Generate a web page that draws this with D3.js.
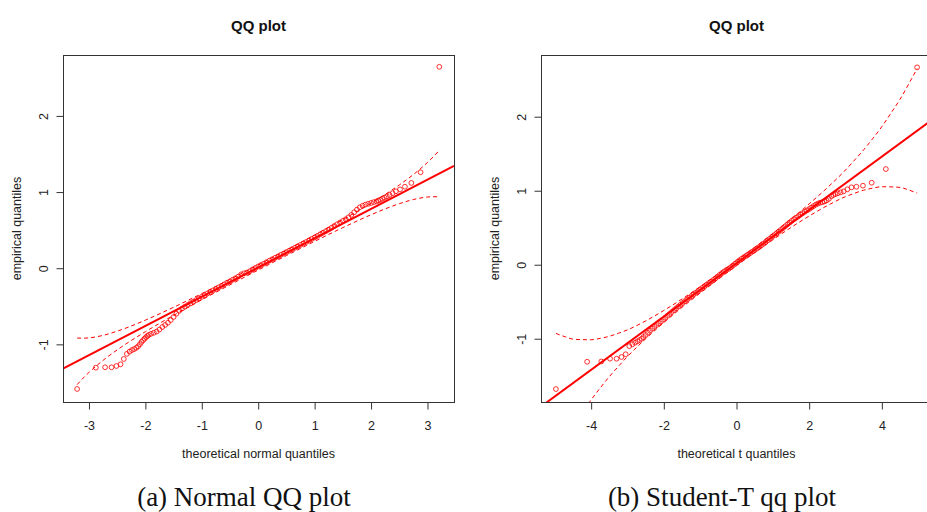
<!DOCTYPE html>
<html>
<head>
<meta charset="utf-8">
<script src="https://cdn.jsdelivr.net/npm/d3@7"></script>
<style>
  html, body { margin: 0; padding: 0; background: #fff; }
  svg { display: block; }
</style>
</head>
<body>
<svg id="chart" width="927" height="512"></svg>
<script>
// ---------- Normal QQ plot data ----------
const normalTheo = [
  -3.21, -2.878, -2.714, -2.60, -2.513, -2.44, -2.382, -2.328, -2.28, -2.238,
  -2.198, -2.16, -2.128, -2.097, -2.067, -2.04, -2.013, -1.988, -1.964, -1.94,
  -1.90, -1.85, -1.80, -1.75, -1.70, -1.65, -1.60, -1.55, -1.50, -1.45,
  -1.40, -1.35, -1.30, -1.25, -1.20, -1.15, -1.10, -1.05, -1.00, -0.95,
  -0.90, -0.85, -0.80, -0.75, -0.70, -0.65, -0.60, -0.55, -0.50, -0.45,
  -0.40, -0.35, -0.30, -0.25, -0.20, -0.15, -0.10, -0.05, 0.00, 0.05,
  0.10, 0.15, 0.20, 0.25, 0.30, 0.35, 0.40, 0.45, 0.50, 0.55,
  0.60, 0.65, 0.70, 0.75, 0.80, 0.85, 0.90, 0.95, 1.00, 1.05,
  1.10, 1.15, 1.20, 1.25, 1.30, 1.35, 1.40, 1.45, 1.50, 1.55,
  1.60, 1.65, 1.70, 1.75, 1.80, 1.85, 1.90, 1.95, 2.00, 2.05,
  2.097, 2.128, 2.16, 2.198, 2.238, 2.28, 2.328, 2.382, 2.44, 2.513,
  2.60, 2.714, 2.878, 3.21
];
const normalEmp = [
  -1.586, -1.306, -1.301, -1.301, -1.284, -1.262, -1.192, -1.125, -1.095, -1.075,
  -1.062, -1.045, -1.025, -0.998, -0.968, -0.945, -0.925, -0.905, -0.890, -0.876,
  -0.862, -0.848, -0.832, -0.805, -0.772, -0.745, -0.716, -0.681, -0.641, -0.598,
  -0.560, -0.530, -0.506, -0.483, -0.461, -0.440, -0.418, -0.397, -0.376, -0.354,
  -0.332, -0.313, -0.291, -0.272, -0.251, -0.232, -0.211, -0.190, -0.171, -0.150,
  -0.131, -0.109, -0.080, -0.066, -0.058, -0.040, -0.016, 0.004, 0.024, 0.042,
  0.060, 0.080, 0.100, 0.118, 0.137, 0.155, 0.175, 0.192, 0.212, 0.230,
  0.250, 0.268, 0.287, 0.306, 0.326, 0.344, 0.363, 0.384, 0.404, 0.424,
  0.446, 0.466, 0.487, 0.508, 0.531, 0.555, 0.578, 0.600, 0.622, 0.643,
  0.668, 0.700, 0.735, 0.770, 0.800, 0.820, 0.835, 0.846, 0.857, 0.868,
  0.878, 0.888, 0.898, 0.912, 0.927, 0.943, 0.962, 0.985, 1.010, 1.035,
  1.070, 1.120, 1.260, 2.645
];
const normalLine = { intercept: 0.01, slope: 0.384 };
const normalEnvX     = [-3.21, -3.1, -3, -2.75, -2.5, -2.25, -2, -1.5, -1, -0.5, 0, 0.5, 1, 1.5, 2, 2.25, 2.5, 2.75, 3, 3.1, 3.21];
const normalEnvUpper = [-0.917, -0.919, -0.915, -0.882, -0.827, -0.759, -0.682, -0.513, -0.333, -0.146, 0.044, 0.238, 0.435, 0.639, 0.854, 0.969, 1.093, 1.230, 1.389, 1.461, 1.549];
const normalEnvLower = [-1.529, -1.441, -1.369, -1.210, -1.073, -0.949, -0.834, -0.619, -0.415, -0.218, -0.024, 0.166, 0.353, 0.533, 0.702, 0.779, 0.847, 0.902, 0.935, 0.939, 0.937];
const normalTicksX = [-3, -2, -1, 0, 1, 2, 3];
const normalTicksY = [-1, 0, 1, 2];

// ---------- Student-t QQ plot data ----------
const tTheo = [
  -4.97, -4.11, -3.72, -3.48, -3.30, -3.165, -3.05, -2.95, -2.866, -2.79,
  -2.725, -2.665, -2.61,
  -2.56, -2.50, -2.44, -2.38, -2.32, -2.26, -2.20, -2.14, -2.08, -2.02,
  -1.96, -1.90, -1.84, -1.78, -1.72, -1.66, -1.60, -1.54, -1.48, -1.42,
  -1.36, -1.30, -1.24, -1.18, -1.12, -1.06, -1.00, -0.94, -0.88, -0.82,
  -0.76, -0.70, -0.64, -0.58, -0.52, -0.46, -0.40, -0.34, -0.28, -0.22,
  -0.16, -0.10, -0.04, 0.02, 0.08, 0.14, 0.20, 0.26, 0.32, 0.38,
  0.44, 0.50, 0.56, 0.62, 0.68, 0.74, 0.80, 0.86, 0.92, 0.98,
  1.04, 1.10, 1.16, 1.22, 1.28, 1.34, 1.40, 1.46, 1.52, 1.58,
  1.64, 1.70, 1.76, 1.82, 1.88, 1.94, 2.00, 2.06, 2.12, 2.18,
  2.24, 2.30, 2.36, 2.42, 2.48, 2.54,
  2.61, 2.665, 2.725, 2.79, 2.866, 2.95, 3.05, 3.165, 3.30, 3.48,
  3.72, 4.11, 4.97
];
const tEmp = [
  -1.680, -1.311, -1.307, -1.270, -1.270, -1.247, -1.210, -1.100, -1.075, -1.054,
  -1.035, -1.018, -1.000,
  -0.977, -0.950, -0.920, -0.891, -0.864, -0.839, -0.815, -0.791, -0.767, -0.743,
  -0.717, -0.690, -0.665, -0.639, -0.614, -0.589, -0.565, -0.541, -0.517, -0.493,
  -0.470, -0.447, -0.425, -0.402, -0.380, -0.357, -0.335, -0.313, -0.291, -0.269,
  -0.248, -0.228, -0.206, -0.184, -0.160, -0.136, -0.112, -0.092, -0.072, -0.056,
  -0.035, -0.012, 0.013, 0.037, 0.059, 0.080, 0.100, 0.119, 0.139, 0.158,
  0.178, 0.198, 0.218, 0.239, 0.261, 0.283, 0.305, 0.329, 0.353, 0.377,
  0.400, 0.423, 0.446, 0.470, 0.495, 0.520, 0.545, 0.569, 0.592, 0.615,
  0.635, 0.655, 0.676, 0.696, 0.716, 0.734, 0.752, 0.772, 0.792, 0.811,
  0.826, 0.838, 0.845, 0.855, 0.869, 0.890,
  0.925, 0.942, 0.955, 0.966, 0.978, 0.992, 1.019, 1.046, 1.054, 1.068,
  1.108, 1.293, 2.667
];
const tLine = { intercept: 0.02, slope: 0.36 };
const tEnvX     = [-4.97, -4.75, -4.5, -4.25, -4, -3.75, -3.5, -3.25, -3, -2.5, -2, -1.5, -1, -0.5, 0, 0.5, 1, 1.5, 2, 2.5, 3, 3.25, 3.5, 3.75, 4, 4.25, 4.5, 4.75, 4.97];
const tEnvUpper = [-0.928, -0.968, -1.005, -1.012, -1.014, -0.995, -0.967, -0.926, -0.880, -0.759, -0.618, -0.463, -0.297, -0.124, 0.053, 0.236, 0.423, 0.617, 0.822, 1.041, 1.280, 1.414, 1.553, 1.705, 1.866, 2.048, 2.235, 2.452, 2.650];
const tEnvLower = [-2.610, -2.412, -2.195, -2.008, -1.826, -1.665, -1.513, -1.374, -1.240, -1.001, -0.782, -0.577, -0.383, -0.196, -0.013, 0.164, 0.337, 0.503, 0.658, 0.799, 0.920, 0.966, 1.007, 1.035, 1.054, 1.052, 1.045, 1.008, 0.968];
const tTicksX = [-4, -2, 0, 2, 4];
const tTicksY = [-1, 0, 1, 2];

// ---------- drawing ----------
const RED = "#ff0000";
const INK = "#222";
const FONT = "'Liberation Sans', Arial, Helvetica, sans-serif";
const plainNumber = d => String(d);   // hyphen-minus, as in base graphics
const svg = d3.select("#chart");
svg.append("rect").attr("width", 927).attr("height", 512).attr("fill", "#fff");

function drawPanel(cfg) {
  const x = d3.scaleLinear().domain(cfg.xDomain).range([cfg.left, cfg.right]);
  const y = d3.scaleLinear().domain(cfg.yDomain).range([cfg.bottom, cfg.top]);
  const g = svg.append("g");

  const clipId = "clip-" + cfg.id;
  svg.append("defs").append("clipPath").attr("id", clipId)
    .append("rect")
    .attr("x", cfg.left).attr("y", cfg.top)
    .attr("width", cfg.right - cfg.left).attr("height", cfg.bottom - cfg.top);

  const plot = g.append("g").attr("clip-path", `url(#${clipId})`);

  // sample points
  const pts = cfg.theo.map((t, i) => [t, cfg.emp[i]]);
  plot.append("g").selectAll("circle").data(pts).join("circle")
    .attr("cx", d => x(d[0])).attr("cy", d => y(d[1]))
    .attr("r", 2.4)
    .attr("fill", "none").attr("stroke", RED).attr("stroke-width", 1)
    .attr("stroke-opacity", 0.8);

  // reference line
  const xd = x.domain();
  plot.append("line")
    .attr("x1", x(xd[0])).attr("y1", y(cfg.line.intercept + cfg.line.slope * xd[0]))
    .attr("x2", x(xd[1])).attr("y2", y(cfg.line.intercept + cfg.line.slope * xd[1]))
    .attr("stroke", RED).attr("stroke-width", 2);

  // confidence envelope
  const env = d3.line().x(d => x(d[0])).y(d => y(d[1])).curve(d3.curveMonotoneX);
  [cfg.envUp, cfg.envLo].forEach(arr => {
    plot.append("path")
      .attr("d", env(cfg.envX.map((v, i) => [v, arr[i]])))
      .attr("fill", "none").attr("stroke", RED).attr("stroke-width", 1)
      .attr("stroke-dasharray", "4,3");
  });

  // frame
  g.append("rect")
    .attr("x", cfg.left + 0.5).attr("y", cfg.top + 0.5)
    .attr("width", cfg.right - cfg.left).attr("height", cfg.bottom - cfg.top)
    .attr("fill", "none").attr("stroke", "#333").attr("stroke-width", 1);

  // x axis
  const xa = g.append("g").attr("transform", `translate(0,${cfg.bottom + 0.5})`)
    .call(d3.axisBottom(x).tickValues(cfg.xTicks).tickSize(7).tickFormat(plainNumber));
  xa.select(".domain").remove();
  xa.selectAll(".tick line").attr("stroke", "#333");
  xa.selectAll(".tick text")
    .attr("y", 23.5).attr("dy", "0.35em")
    .attr("fill", INK).style("font-family", FONT).style("font-size", "12.5px");

  // y axis
  const ya = g.append("g").attr("transform", `translate(${cfg.left + 0.5},0)`)
    .call(d3.axisLeft(y).tickValues(cfg.yTicks).tickSize(7).tickFormat(plainNumber));
  ya.select(".domain").remove();
  ya.selectAll(".tick line").attr("stroke", "#333");
  ya.selectAll(".tick text")
    .attr("x", null).attr("dy", "0.35em")
    .attr("transform", "translate(-19.5,0) rotate(-90)")
    .attr("text-anchor", "middle")
    .attr("fill", INK).style("font-family", FONT).style("font-size", "12.5px");

  // axis titles
  g.append("text")
    .attr("x", cfg.titleCx).attr("y", 458)
    .attr("text-anchor", "middle")
    .attr("fill", INK).style("font-family", FONT).style("font-size", "12.5px")
    .text(cfg.xTitle);
  g.append("text")
    .attr("transform", `translate(${cfg.left - 46},${(cfg.top + cfg.bottom) / 2}) rotate(-90)`)
    .attr("dy", "0.35em")
    .attr("text-anchor", "middle")
    .attr("fill", INK).style("font-family", FONT).style("font-size", "12.5px")
    .text(cfg.yTitle);

  // panel title
  g.append("text")
    .attr("x", cfg.titleCx).attr("y", 31)
    .attr("text-anchor", "middle")
    .attr("fill", "#111").style("font-family", FONT)
    .style("font-size", "15px").style("font-weight", "bold")
    .text(cfg.title);

  // caption below the panel
  svg.append("text")
    .attr("x", cfg.captionX).attr("y", 506)
    .attr("text-anchor", "middle")
    .attr("fill", "#111")
    .style("font-family", "'Liberation Serif', 'Times New Roman', serif")
    .style("font-size", "27px")
    .text(cfg.caption);
}

drawPanel({
  id: "normal",
  left: 63, right: 454, top: 55, bottom: 402,
  xDomain: [-3.46, 3.47], yDomain: [-1.757, 2.80],
  xTicks: normalTicksX, yTicks: normalTicksY,
  theo: normalTheo, emp: normalEmp, line: normalLine,
  envX: normalEnvX, envUp: normalEnvUpper, envLo: normalEnvLower,
  title: "QQ plot", xTitle: "theoretical normal quantiles", yTitle: "empirical quantiles",
  titleCx: 258.5,
  caption: "(a) Normal QQ plot", captionX: 244
});

drawPanel({
  id: "student",
  left: 541, right: 932, top: 55, bottom: 402,
  xDomain: [-5.38, 5.38], yDomain: [-1.855, 2.834],
  xTicks: tTicksX, yTicks: tTicksY,
  theo: tTheo, emp: tEmp, line: tLine,
  envX: tEnvX, envUp: tEnvUpper, envLo: tEnvLower,
  title: "QQ plot", xTitle: "theoretical t quantiles", yTitle: "empirical quantiles",
  titleCx: 736.5,
  caption: "(b) Student-T qq plot", captionX: 722
});
</script>
</body>
</html>
